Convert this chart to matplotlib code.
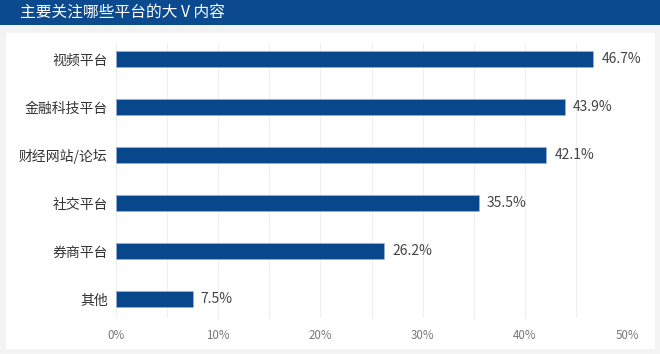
import matplotlib
matplotlib.use("Agg")
import matplotlib.pyplot as plt
from matplotlib.patches import Rectangle

plt.rcParams['font.family'] = ['Noto Sans CJK SC', 'DejaVu Sans']

title = "主要关注哪些平台的大 V 内容"
categories = ["视频平台", "金融科技平台", "财经网站/论坛", "社交平台", "券商平台", "其他"]
values = [46.7, 43.9, 42.1, 35.5, 26.2, 7.5]
xticks = [0, 10, 20, 30, 40, 50]

blue = "#08478c"

fig = plt.figure(figsize=(6.6, 3.54), dpi=100)
fig.patch.set_facecolor("#f3f3f3")

# header band and white panel
fig.patches.append(Rectangle((0, 1 - 25 / 354), 1, 25 / 354, transform=fig.transFigure,
                             facecolor="#0b4a8e", edgecolor="none", zorder=-1))
fig.patches.append(Rectangle((6 / 660, 5 / 354), 649 / 660, 316 / 354, transform=fig.transFigure,
                             facecolor="white", edgecolor="none", zorder=-1))
fig.text(20 / 660, 1 - 12.5 / 354, title, color="white", fontsize=11.3,
         va="center", ha="left")

ax = fig.add_axes([116 / 660, 1 - 318 / 354, 511 / 660, 275 / 354])
ax.set_facecolor("none")
y = list(range(len(categories)))
ax.barh(y, values, height=0.32, color=blue, edgecolor="#9db8d9", linewidth=0.4, zorder=3)
for yi, v in zip(y, values):
    ax.text(v + 0.8, yi, f"{v}%", va="center", ha="left", fontsize=10, color="#444444")

ax.set_xlim(0, 50)
ax.set_ylim(5 + 19 / 48, -16 / 48)
ax.set_yticks(y)
ax.set_yticklabels(categories, fontsize=10, color="#333333")
ax.set_xticks(xticks)
ax.set_xticklabels([f"{t}%" for t in xticks], fontsize=8.3, color="#777777")
ax.set_xticks(range(5, 50, 10), minor=True)
ax.grid(axis="x", which="both", color="#efefef", linewidth=0.8, zorder=0)
ax.tick_params(axis="both", which="both", length=0, pad=6)
ax.tick_params(axis="x", pad=8)
for s in ax.spines.values():
    s.set_visible(False)

fig.savefig("out.png", dpi=100, facecolor=fig.get_facecolor())
